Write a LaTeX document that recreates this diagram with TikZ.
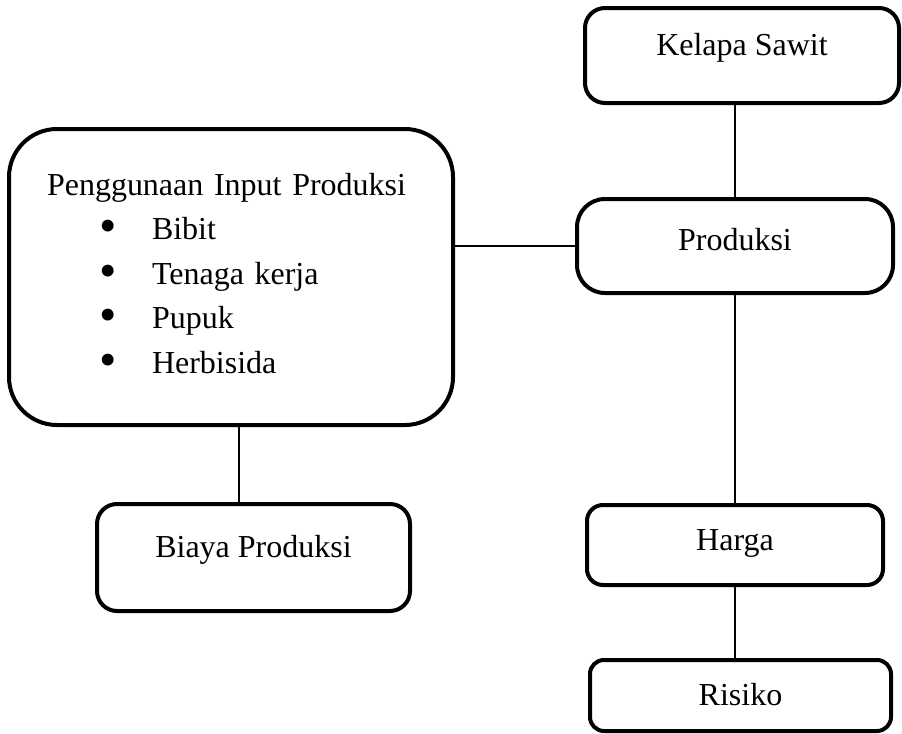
\documentclass[tikz,border=0pt]{standalone}
\usepackage{fontspec}
\setmainfont{Liberation Serif}
\usetikzlibrary{positioning}
\newcommand{\butir}[1]{\hspace*{26.5pt}\makebox[26pt][l]{\raisebox{-1.6pt}{\scalebox{1.55}{\textbullet}}}#1}

\begin{document}
\begin{tikzpicture}[x=0.5pt, y=-0.5pt,
      kotak/.style = {draw, line width=2pt, inner sep=0pt, font=\fontsize{16}{22.25}\selectfont},
      kecil/.style = {kotak, align=center, text height=8pt, text depth=8pt},
      garis/.style = {draw, line width=0.75pt} ]
    \useasboundingbox (0,0) rectangle (902,734);
    \node[kecil, minimum width=157pt, minimum height=47.5pt, rounded corners=10pt] (sawit) at (742,55.5) {Kelapa Sawit};
    \node[kecil, minimum width=158pt, minimum height=47pt, rounded corners=14pt,
          text height=10pt, text depth=6pt] (prod) at (735,246) {Produksi};
    \node[kotak, minimum width=222pt, minimum height=148pt, rounded corners=24pt,
          text width=184pt, align=left] (input) at (231,277)
      {Penggunaan Input Produksi\\ \butir{Bibit}\\ \butir{Tenaga kerja}\\ \butir{Pupuk}\\
       \butir{Herbisida}\rule[-4pt]{0pt}{4pt}};
    \node[kecil, minimum width=156.5pt, minimum height=53.5pt, rounded corners=10pt,
          below=37.5pt of input, xshift=11.25pt] (biaya) {Biaya Produksi};
    \node[kecil, minimum width=148pt, minimum height=40pt, rounded corners=8pt,
          text height=10.5pt, text depth=5.5pt, below=104pt of prod] (harga) {Harga};
    \node[kecil, minimum width=150.5pt, minimum height=35.5pt, rounded corners=7pt,
          text height=13pt, text depth=3pt, below=35.5pt of harga, xshift=2.75pt] (risiko) {Risiko};

    \draw[garis] (sawit.south -| prod.north) -- (prod.north);
    \draw[garis] (input.east |- prod.west) -- (prod.west);
    \draw[garis] ([xshift=4pt]input.south) -- ([xshift=4pt]input.south |- biaya.north);
    \draw[garis] (prod.south) -- (harga.north);
    \draw[garis] (harga.south) -- (harga.south |- risiko.north);
  \end{tikzpicture}
\end{document}
